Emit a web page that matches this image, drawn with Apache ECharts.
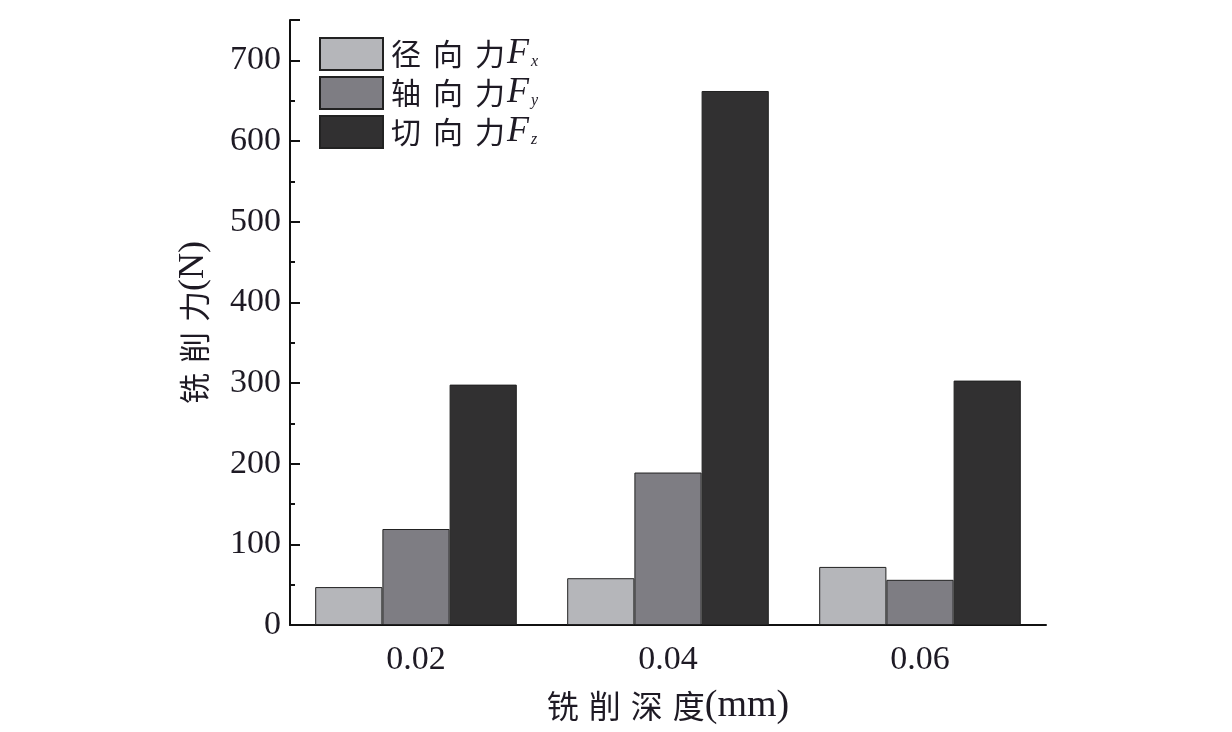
<!DOCTYPE html>
<html><head><meta charset="utf-8">
<script src="https://cdn.jsdelivr.net/npm/echarts@6/dist/echarts.min.js"></script>
<style>html,body{margin:0;padding:0;background:#fff}#c{width:1232px;height:732px}</style>
</head><body><div id="c"></div>
<script>
const categories = ['0.02', '0.04', '0.06'];
const radialFx = [47, 58, 72];
const axialFy = [119, 189, 56];
const tangentialFz = [298, 662, 303];
const seriesNames = ['径向力Fx', '轴向力Fy', '切向力Fz'];
const subscripts = ['x', 'y', 'z'];
const cnLabels = [['径', '向', '力'], ['轴', '向', '力'], ['切', '向', '力']];
const xName = ['铣', '削', '深', '度'];
const yName = ['铣', '削', '力'];

const serif = '"Liberation Serif", "Times New Roman", serif';
const cjk = '"Noto Sans CJK SC", sans-serif';
const txt = '#1e1a24';

const spaced = (chars, unit) => chars.map((ch, i) => '{' + (i === 0 ? 'a' : (i < chars.length - 1 ? 'c' : 'd')) + '|' + ch + '}').join('') + unit;

const chart = echarts.init(document.getElementById('c'));
const mkBar = (name, data, color) => ({
  name, type: 'bar', data, xAxisIndex: 0, yAxisIndex: 0,
  barGap: '0%', barCategoryGap: '20%',
  itemStyle: { color, borderColor: '#222', borderWidth: 1 }
});
chart.setOption({
  animation: false,
  grid: { left: 290, right: 186, top: 20, bottom: 107 },
  legend: {
    orient: 'vertical', left: 319, top: 36, padding: 0,
    itemWidth: 63, itemHeight: 32, itemGap: 3,
    icon: 'rect',
    data: seriesNames,
    formatter: function (n) {
      const i = seriesNames.indexOf(n);
      return spaced(cnLabels[i], '{f|F}{s|' + subscripts[i] + '}');
    },
    textStyle: {
      rich: {
        a: { fontFamily: cjk, fontSize: 30, color: txt, lineHeight: 32, padding: [0, 12, 0, 3] },
        c: { fontFamily: cjk, fontSize: 30, color: txt, lineHeight: 32, padding: [0, 12, 0, 0] },
        d: { fontFamily: cjk, fontSize: 30, color: txt, lineHeight: 32 },
        f: { fontFamily: serif, fontStyle: 'italic', fontSize: 36, color: txt, lineHeight: 32, padding: [0, 2, 0, 2] },
        s: { fontFamily: serif, fontStyle: 'italic', fontSize: 16, color: txt, verticalAlign: 'bottom', lineHeight: 32 }
      }
    }
  },
  xAxis: [{
    type: 'category', data: categories,
    axisLine: { lineStyle: { color: '#111', width: 2 } },
    axisTick: { inside: true, length: 5, lineStyle: { color: '#111', width: 2 } },
    axisLabel: { fontFamily: serif, fontSize: 34, color: txt, margin: 18 },
    name: spaced(xName, '{e|(mm)}'), nameLocation: 'middle', nameGap: 62,
    nameTextStyle: { rich: {
      a: { fontFamily: cjk, fontSize: 32, color: txt, padding: [0, 10, 0, 0] },
      c: { fontFamily: cjk, fontSize: 32, color: txt, padding: [0, 10, 0, 0] },
      d: { fontFamily: cjk, fontSize: 32, color: txt },
      e: { fontFamily: serif, fontSize: 38, color: txt }
    } }
  }, {
    type: 'category', data: categories, position: 'bottom',
    axisLine: { show: false },
    axisTick: { inside: true, alignWithLabel: true, length: 10, lineStyle: { color: '#111', width: 2 } },
    axisLabel: { show: false }
  }],
  yAxis: [{
    type: 'value', min: 0, max: 750, interval: 50,
    axisLine: { show: true, lineStyle: { color: '#111', width: 2 } },
    axisTick: { show: true, inside: true, length: 5, lineStyle: { color: '#111', width: 2 } },
    axisLabel: { show: false },
    splitLine: { show: false },
    name: spaced(yName, '{e|(N)}'), nameLocation: 'middle', nameGap: 78, nameRotate: 90,
    nameTextStyle: { rich: {
      a: { fontFamily: cjk, fontSize: 31, color: txt, padding: [0, 10, 0, 0] },
      c: { fontFamily: cjk, fontSize: 31, color: txt, padding: [0, 10, 0, 0] },
      d: { fontFamily: cjk, fontSize: 31, color: txt },
      e: { fontFamily: serif, fontSize: 36, color: txt }
    } }
  }, {
    type: 'value', min: 0, max: 750, interval: 100, position: 'left',
    axisLine: { show: false },
    axisTick: { show: true, inside: true, length: 10, lineStyle: { color: '#111', width: 2 } },
    axisLabel: { fontFamily: serif, fontSize: 34, color: txt, margin: 9,
      formatter: v => (v % 100 === 0 ? String(v) : '') },
    splitLine: { show: false }
  }],
  series: [
    mkBar(seriesNames[0], radialFx, '#b5b6ba'),
    mkBar(seriesNames[1], axialFy, '#7e7d83'),
    mkBar(seriesNames[2], tangentialFz, '#313031')
  ]
});
</script></body></html>
